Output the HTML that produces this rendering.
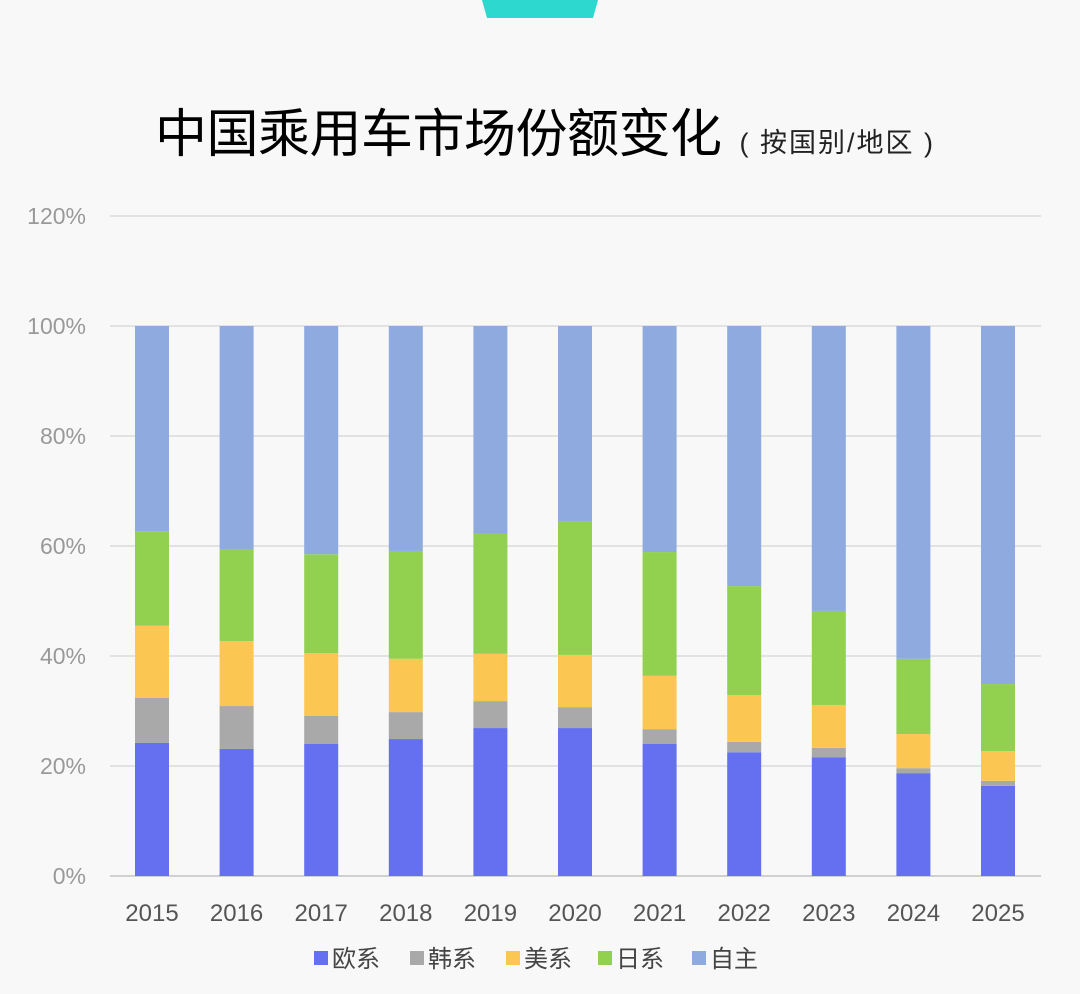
<!DOCTYPE html>
<html><head><meta charset="utf-8"><style>
html,body{margin:0;padding:0;background:#f8f8f8;}
body{width:1080px;height:994px;position:relative;overflow:hidden;font-family:"Liberation Sans","Noto Sans CJK SC",sans-serif;}
#title{position:absolute;left:155px;top:92px;font-size:52px;color:#000;white-space:nowrap;letter-spacing:-0.5px;}
#title span{font-size:27px;color:#222;letter-spacing:2px;margin-left:4px;}
</style></head><body>
<svg style="position:absolute;left:0;top:0" width="1080" height="20"><polygon points="482,0 598,0 593,18 487,18" fill="#2dd8cf"/></svg>
<div id="title">中国乘用车市场份额变化 <span>( 按国别/地区 )</span></div>
<svg id="chart" style="position:absolute;left:0;top:0" width="1080" height="994"></svg>
<script>
const years=["2015","2016","2017","2018","2019","2020","2021","2022","2023","2024","2025"];
const seriesNames=["欧系","韩系","美系","日系","自主"];
const euro=[24.2,23.1,24.0,24.9,26.9,26.9,24.0,22.5,21.6,18.7,16.4];
const korean=[8.2,7.8,5.1,4.9,4.9,3.8,2.7,1.9,1.7,0.9,0.9];
const american=[13.1,11.8,11.4,9.7,8.6,9.5,9.7,8.5,7.8,6.2,5.4];
const japanese=[17.2,16.6,18.0,19.6,21.8,24.2,22.5,19.8,17.1,13.7,12.2];
const domestic=[37.3,40.7,41.5,40.9,37.8,35.6,41.1,47.3,51.8,60.5,65.1];
const yTicks=[0,20,40,60,80,100,120];
const colors=["#6470f0","#a9a9a9","#fcc653","#92d050","#8eaadf"];
const NS="http://www.w3.org/2000/svg";
const svg=document.getElementById('chart');
const y=v=>876-v*5.5;
const x=i=>152+i*84.6;
function mk(t,a){const e=document.createElementNS(NS,t);for(const k in a)e.setAttribute(k,a[k]);svg.appendChild(e);return e;}
yTicks.forEach(t=>{
  const l=mk('line',{x1:110,x2:1041,y1:y(t),y2:y(t),stroke:t===0?'#d0d0d0':'#e2e2e2','stroke-width':2});
  
  
  const tx=mk('text',{x:86,y:y(t)+8,'text-anchor':'end','font-size':23,fill:'#999','font-family':'Liberation Sans, sans-serif'});
  tx.textContent=t+'%';
  
  
});
const series=[euro,korean,american,japanese,domestic];
years.forEach((yr,i)=>{
  let base=0;
  series.forEach((s,j)=>{
    const v=s[i];
    const r=mk('rect',{x:x(i)-17,y:y(base+v),width:34,height:v*5.5,fill:colors[j]});
    
    
    base+=v;
  });
  const tx=mk('text',{x:x(i),y:921,'text-anchor':'middle','font-size':24,fill:'#555','font-family':'Liberation Sans, sans-serif'});
  tx.textContent=yr;
  
  
});
const lx=[314,410,506,598,692];
seriesNames.forEach((n,j)=>{
  const r=mk('rect',{x:lx[j],y:951,width:14,height:14,fill:colors[j]});
  
  
  const t=mk('text',{x:lx[j]+18,y:967,'font-size':24,fill:'#444','font-family':'Liberation Sans, Noto Sans CJK SC, sans-serif'});
  t.textContent=n;
  
  
});
</script>
</body></html>
